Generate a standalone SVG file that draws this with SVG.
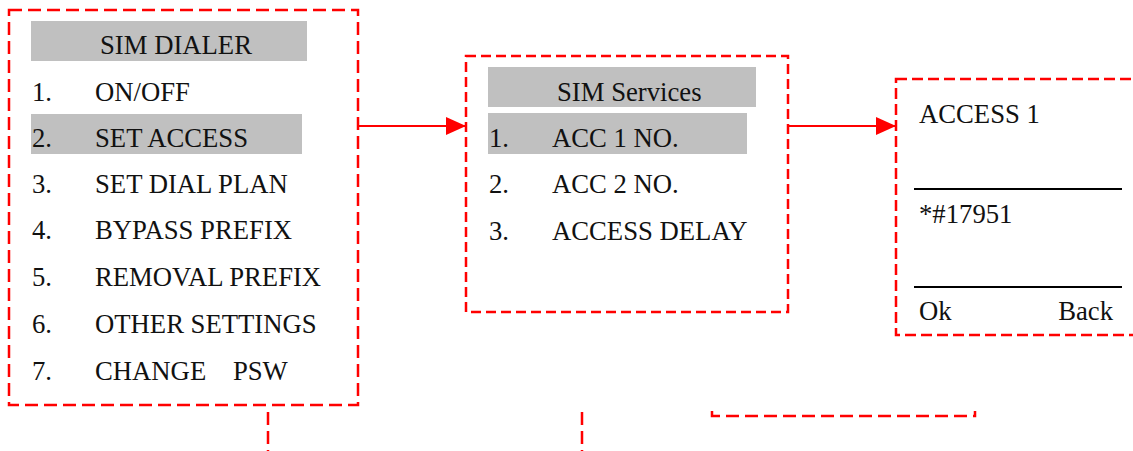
<svg xmlns="http://www.w3.org/2000/svg" width="1133" height="451" viewBox="0 0 1133 451">
<style>
text{font-family:"Liberation Serif","Times New Roman",serif;font-size:26.7px;fill:#111}
.box{fill:none;stroke:#f00;stroke-width:2.5}
.hl{fill:#c0c0c0}
.conn{fill:none;stroke:#f00;stroke-width:2}
.rule{stroke:#000;stroke-width:2}
</style>
<defs>
<marker id="ah" viewBox="0 0 20 18" refX="20" refY="9" markerWidth="20" markerHeight="18" markerUnits="userSpaceOnUse" orient="auto">
<path d="M0,0 L20,9 L0,18 Z" fill="#f00"/>
</marker>
</defs>
<g id="sim-dialer">
<rect class="box" x="9" y="10" width="349" height="395" stroke-dasharray="13,6"/>
<rect class="hl" x="31" y="21" width="276" height="40"/>
<text x="100" y="54">SIM DIALER</text>
<rect class="hl" x="31" y="114" width="271" height="40"/>
<text x="32" y="101">1.</text><text x="95" y="101">ON/OFF</text>
<text x="32" y="147">2.</text><text x="95" y="147">SET ACCESS</text>
<text x="32" y="193">3.</text><text x="95" y="193">SET DIAL PLAN</text>
<text x="32" y="239">4.</text><text x="95" y="239">BYPASS PREFIX</text>
<text x="32" y="286">5.</text><text x="95" y="286">REMOVAL PREFIX</text>
<text x="32" y="333">6.</text><text x="95" y="333">OTHER SETTINGS</text>
<text x="32" y="380">7.</text><text x="95" y="380" xml:space="preserve">CHANGE    PSW</text>
</g>
<g id="sim-services">
<rect class="box" x="466" y="56" width="322" height="256" stroke-dasharray="10,5"/>
<rect class="hl" x="488" y="67" width="268" height="40"/>
<text x="557" y="101">SIM Services</text>
<rect class="hl" x="488" y="113" width="259" height="41"/>
<text x="489" y="147">1.</text><text x="552" y="147">ACC 1 NO.</text>
<text x="489" y="193">2.</text><text x="552" y="193">ACC 2 NO.</text>
<text x="489" y="240">3.</text><text x="552" y="240">ACCESS DELAY</text>
</g>
<g id="access-1">
<rect class="box" x="896" y="79" width="250" height="256" stroke-dasharray="11,5"/>
<text x="919" y="123">ACCESS 1</text>
<line class="rule" x1="914" y1="189" x2="1122" y2="189"/>
<text x="919" y="223">*#17951</text>
<line class="rule" x1="914" y1="287" x2="1122" y2="287"/>
<text x="919" y="320">Ok</text>
<text x="1113" y="320" text-anchor="end">Back</text>
</g>
<g id="fragments">
<line class="box" x1="268" y1="412" x2="268" y2="451" stroke-dasharray="13,6"/>
<line class="box" x1="582" y1="412" x2="582" y2="451" stroke-dasharray="13,6"/>
<path class="box" d="M712,411 V416 H975 V411" stroke-dasharray="13,6"/>
</g>
<g id="connectors">
<line class="conn" x1="358" y1="126" x2="466" y2="126" marker-end="url(#ah)"/>
<line class="conn" x1="788" y1="126" x2="896" y2="126" marker-end="url(#ah)"/>
</g>
</svg>
